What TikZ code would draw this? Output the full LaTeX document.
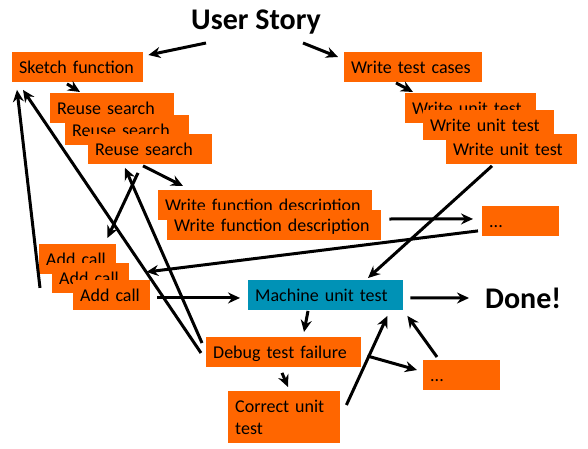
\documentclass[tikz,border=0pt]{standalone}
\usepackage{fontspec}
\setmainfont{Carlito}
\usetikzlibrary{arrows.meta,calc}
\definecolor{taskorange}{RGB}{255,102,0}
\definecolor{testblue}{RGB}{0,146,182}

\begin{document}
\begin{tikzpicture}[x=1pt,y=-1pt,
  task/.style={fill=taskorange, anchor=north west, inner xsep=7pt, inner ysep=0pt,
    minimum height=29.5pt, text width=#1, align=left,
    text height=14.5pt, text depth=1.5pt, font=\fontsize{18}{21.5}\selectfont},
  big/.style={font=\fontsize{30}{36}\selectfont\bfseries, inner sep=0pt},
  flow/.style={-{Stealth[length=12pt,width=11pt,inset=4pt]}, line width=3pt}]

   \useasboundingbox (0,0) rectangle (588,449);

   % boxes
   \node[big] (story) at (256,22.5) {User Story};
   \node[task=117pt] (sketch) at (12,52) {Sketch function};
   \node[task=110pt] (reuseA) at (50,93) {Reuse search};
   \node[task=110pt] (reuseB) at (65,115) {Reuse search};
   \node[task=110pt] (reuseC) at (88,134) {Reuse search};
   \node[task=200pt] (descA) at (158,190) {Write function description};
   \node[task=200pt] (descB) at (167,210) {Write function description};
   \node[task=124pt] (cases) at (344,52) {Write test cases};
   \node[task=117pt] (unitA) at (405,93) {Write unit test};
   \node[task=117pt] (unitB) at (423,110) {Write unit test};
   \node[task=117pt] (unitC) at (446,134) {Write unit test};
   \node[task=63pt] (moreA) at (482,206) {...};
   \node[task=63pt] (callA) at (39,244) {Add call};
   \node[task=63pt] (callB) at (52,263) {Add call};
   \node[task=63pt] (callC) at (73,280) {Add call};
   \node[task=141pt, fill=testblue] (machine) at (248,280) {Machine unit test};
   \node[big, anchor=west] (done) at (485,298) {Done!};
   \node[task=141pt] (debug) at (206,337) {Debug test failure};
   \node[task=98pt, minimum height=52pt, text depth=23pt] (correct) at (228,391) {Correct unit\\test};
   \node[task=63pt] (moreB) at (423,360) {...};

   % arrows
   \draw[flow] ($(story.center)+(-50,20.5)$) -- ($(sketch.north east)+(5,3)$);
   \draw[flow] ($(story.center)+(47,20.5)$) -- ($(cases.north west)+(-6,5)$);
   \draw[flow] ($(sketch.south west)+(55,2)$) -- ($(reuseA.north west)+(30,-1)$);
   \draw[flow] ($(cases.south west)+(52,1)$) -- ($(unitA.north west)+(8,-1)$);
   \draw[flow] ($(reuseC.south west)+(55,2)$) -- ($(descA.north west)+(25,-4)$);
   \draw[flow] ($(descB.north east)+(8,9)$) -- ($(moreA.west)+(-9,-2)$);
   \draw[flow] ($(moreA.south west)+(-4,-5)$) -- ($(callC.north east)+(-4,-8)$);
   \draw[flow] ($(unitC.south west)+(46,2)$) -- ($(machine.north west)+(120,-2)$);
   \draw[flow] ($(callC.east)+(7,3)$) -- ($(machine.west)+(-8,3)$);
   \draw[flow] ($(machine.east)+(7,3)$) -- ($(done.west)+(-16,0)$);
   \draw[flow] ($(machine.south west)+(60,1)$) -- ($(debug.north west)+(98,-5)$);
   \draw[flow] ($(debug.south west)+(76,6)$) -- ($(correct.north west)+(60,-4)$);
   \draw[flow] ($(debug.north east)+(6,19)$) -- ($(moreB.north west)+(-6,10)$);
   \draw[flow] ($(correct.north east)+(6,14)$) -- ($(machine.south east)+(-16,6)$);
   \draw[flow] ($(moreB.north west)+(14,-3)$) -- ($(machine.south east)+(4,6)$);
   \draw[flow] ($(debug.west)+(-5,1)$) -- ($(sketch.south west)+(11,8)$);
   \draw[flow] ($(debug.north west)+(-4,6)$) -- ($(reuseC.south west)+(37,4)$);
   \draw[flow] ($(callA.south west)+(1,14)$) -- ($(sketch.south west)+(5,8)$);
   \draw[flow] ($(reuseC.south west)+(50,9)$) -- ($(callA.north east)+(-9,-6)$);

\end{tikzpicture}
\end{document}
